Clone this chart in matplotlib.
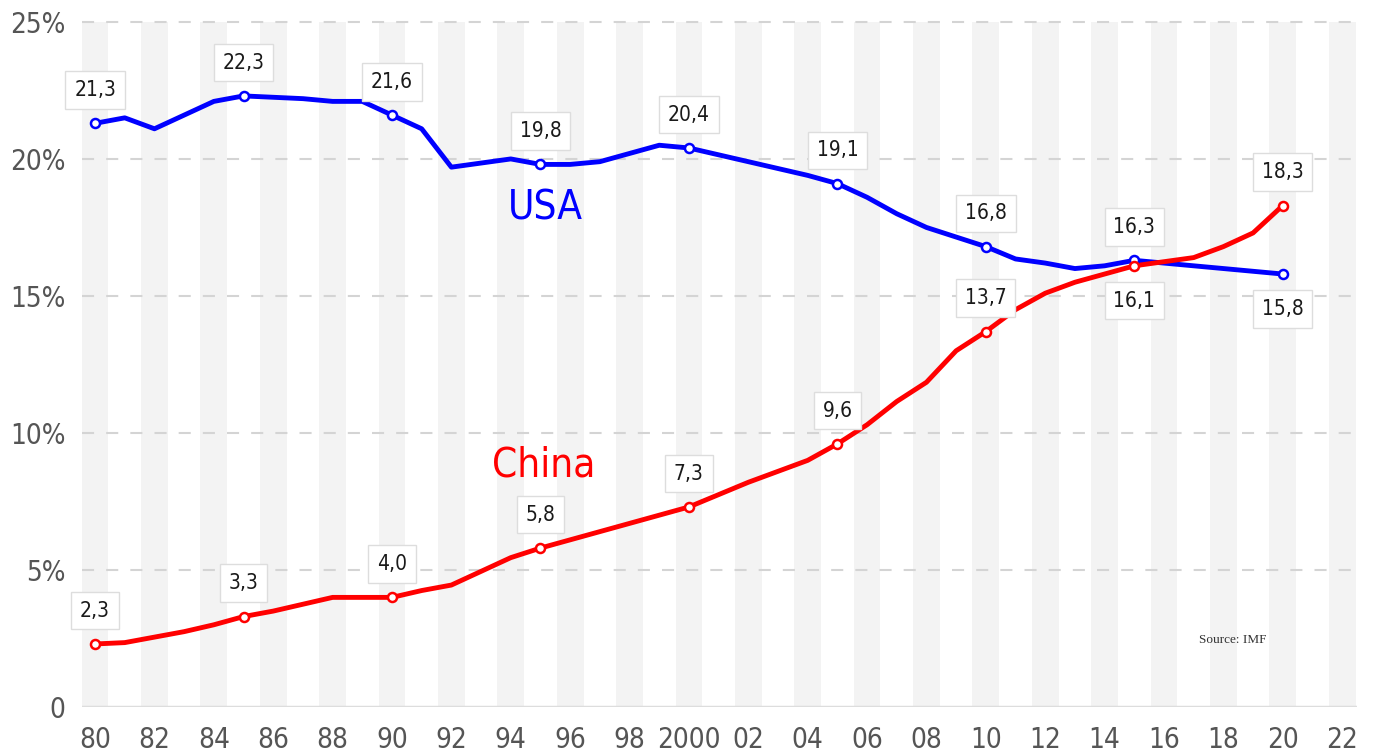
import numpy as np
import matplotlib
matplotlib.use("Agg")
import matplotlib.pyplot as plt

years = list(range(1980, 2021))

usa = [21.3, 21.5, 21.1, 21.6, 22.1, 22.3, 22.25, 22.2, 22.1, 22.1,
       21.6, 21.1, 19.7, 19.85, 20.0, 19.8, 19.8, 19.9, 20.2, 20.5,
       20.4, 20.15, 19.9, 19.65, 19.4, 19.1, 18.6, 18.0, 17.5, 17.15,
       16.8, 16.35, 16.2, 16.0, 16.1, 16.3, 16.2, 16.1, 16.0, 15.9,
       15.8]

china = [2.3, 2.35, 2.55, 2.75, 3.0, 3.3, 3.5, 3.75, 4.0, 4.0,
         4.0, 4.25, 4.45, 4.95, 5.45, 5.8, 6.1, 6.4, 6.7, 7.0,
         7.3, 7.75, 8.2, 8.6, 9.0, 9.6, 10.3, 11.15, 11.85, 13.0,
         13.7, 14.5, 15.1, 15.5, 15.8, 16.1, 16.25, 16.4, 16.8, 17.3,
         18.3]

label_years = [1980, 1985, 1990, 1995, 2000, 2005, 2010, 2015, 2020]
usa_labels = ["21,3", "22,3", "21,6", "19,8", "20,4", "19,1", "16,8", "16,3", "15,8"]
china_labels = ["2,3", "3,3", "4,0", "5,8", "7,3", "9,6", "13,7", "16,1", "18,3"]
usa_below = [2020]
china_below = [2015]

xtick_years = list(range(1980, 2023, 2))
xtick_labels = [("2000" if y == 2000 else f"{y % 100:02d}") for y in xtick_years]
yticks = [0, 5, 10, 15, 20, 25]
ytick_labels = ["0", "5%", "10%", "15%", "20%", "25%"]

plt.rcParams['font.family'] = ['DejaVu Sans']
plt.rcParams['font.stretch'] = 'condensed'

fig = plt.figure(figsize=(13.83, 7.52), dpi=100)
ax = fig.add_axes([82 / 1383, 45 / 752, 1275 / 1383, 707 / 752])

# grey stripes on even years
ax.bar(xtick_years, 25, width=0.9, color='#f3f3f3', zorder=0)
for v in yticks[1:]:
    ax.axhline(v, color='#d4d4d4', lw=1.5, dashes=[5.8, 5.8], zorder=1)
ax.axhline(0, color='#dddddd', lw=2.5, zorder=1)

mark_idx = [years.index(y) for y in label_years]
for vals, col, labels, below in [(usa, '#0000ff', usa_labels, usa_below),
                                 (china, '#ff0000', china_labels, china_below)]:
    ax.plot(years, vals, color=col, lw=3.5, zorder=3, solid_joinstyle='round')
    ax.plot(label_years, [vals[i] for i in mark_idx], 'o', ms=6.5, mfc='white',
            mec=col, mew=1.8, zorder=4)
    for y, t in zip(label_years, labels):
        off = -25 if y in below else 24
        ax.annotate(t, (y, vals[years.index(y)]), xytext=(0, off), textcoords='offset points',
                    ha='center', va='center', fontsize=15, color='#1a1a1a', zorder=5,
                    bbox=dict(boxstyle='square,pad=0.42', fc='white', ec='#dddddd', lw=1))

ax.text(1995.15, 18.2, "USA", color='#0000ff', fontsize=29, ha='center', va='center')
ax.text(1995.1, 8.8, "China", color='#ff0000', fontsize=29, ha='center', va='center')
ax.text(2018.33, 2.45, "Source: IMF", family=['Liberation Serif', 'DejaVu Serif'],
        fontsize=9.5, color='#333333', ha='center', va='center', stretch='condensed')

ax.set_xlim(1979.56, 2022.5)
ax.set_ylim(0, 25.8)
ax.set_xticks(xtick_years)
ax.set_xticklabels(xtick_labels)
ax.set_yticks(yticks)
ax.set_yticklabels(ytick_labels)
ax.tick_params(length=0, labelsize=20, labelcolor='#555555')
ax.tick_params(axis='x', pad=14)
ax.tick_params(axis='y', pad=12)
for s in ax.spines.values():
    s.set_visible(False)

fig.savefig("out.png", dpi=100)
